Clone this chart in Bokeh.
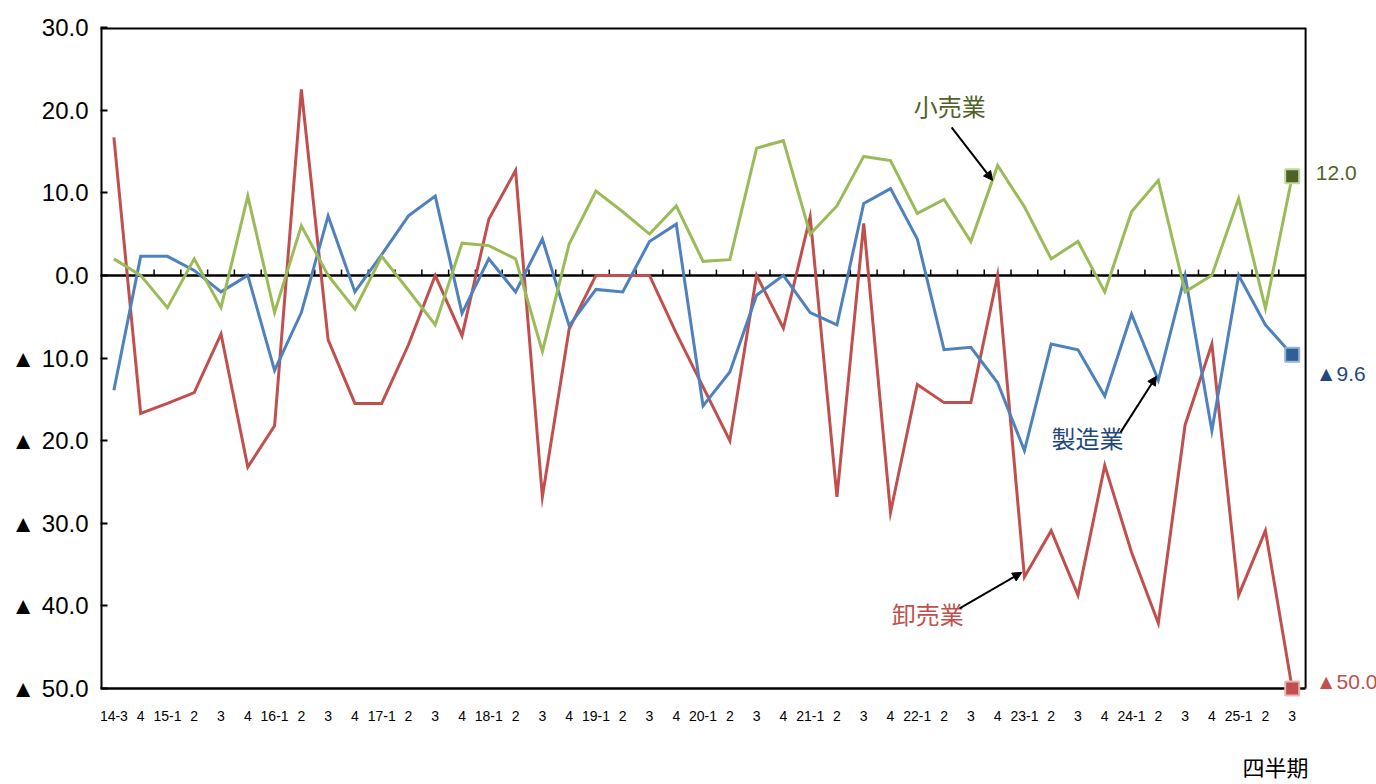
from bokeh.plotting import figure
from bokeh.models import Range1d, FixedTicker, Label, Arrow, NormalHead
from bokeh.core.properties import value
from bokeh.embed import file_html
from bokeh.resources import INLINE

# ---- data ----
quarters = ["14-3", "4", "15-1", "2", "3", "4", "16-1", "2", "3", "4",
            "17-1", "2", "3", "4", "18-1", "2", "3", "4", "19-1", "2", "3", "4",
            "20-1", "2", "3", "4", "21-1", "2", "3", "4", "22-1", "2", "3", "4",
            "23-1", "2", "3", "4", "24-1", "2", "3", "4", "25-1", "2", "3"]

manufacturing = [-13.9, 2.3, 2.3, 0.6, -2.0, 0.0, -11.5, -4.5, 7.2, -2.0, 2.5, 7.2, 9.6,
                 -4.6, 2.0, -2.0, 4.4, -6.1, -1.7, -2.0, 4.1, 6.2, -15.8, -11.7, -2.4,
                 0.0, -4.5, -6.0, 8.7, 10.5, 4.4, -9.0, -8.7, -13.0, -21.2, -8.3, -9.0,
                 -14.6, -4.7, -12.7, 0.0, -18.8, 0.0, -6.0, -9.6]

retail = [2.0, 0.0, -3.9, 2.0, -3.9, 9.6, -4.5, 6.0, 0.0, -4.1, 2.3, -1.8, -6.0, 3.9,
          3.6, 2.0, -9.2, 3.8, 10.2, 7.7, 5.0, 8.4, 1.7, 1.9, 15.4, 16.3, 5.0, 8.4,
          14.4, 13.9, 7.5, 9.2, 4.1, 13.3, 8.3, 2.0, 4.1, -2.0, 7.7, 11.5, -2.0, 0.0,
          9.3, -4.0, 12.0]

wholesale = [16.7, -16.7, -15.5, -14.2, -7.1, -23.2, -18.2, 22.5, -7.8, -15.5, -15.5,
             -8.4, 0.0, -7.3, 6.8, 12.7, -26.8, -6.5, 0.0, 0.0, 0.0, -7.0, -13.5, -20.0,
             0.0, -6.4, 7.1, -26.8, 6.3, -28.7, -13.2, -15.4, -15.4, 0.0, -36.5, -30.9,
             -38.7, -23.0, -33.5, -42.1, -18.1, -8.3, -38.7, -30.9, -50.0]

series_names = ["製造業", "小売業", "卸売業"]
y_ticks = [30, 20, 10, 0, -10, -20, -30, -40, -50]
x_title = "四半期"

# ---- style ----
SANS = "Liberation Sans"
CJK = "Noto Sans CJK JP"
line_colors = {"製造業": "#4f81bd", "小売業": "#9bbb59", "卸売業": "#c0504d"}
dark_colors = {"製造業": "#1f497d", "小売業": "#4f6228", "卸売業": "#c0504d"}
marker_fill = {"製造業": "#2f5f95", "小売業": "#4f6228", "卸売業": "#c0504d"}
marker_edge = {"製造業": "#95b3d7", "小売業": "#c3d69b", "卸売業": "#e6b9b8"}


def fmt(v):
    return ("▲" if v < 0 else "") + f"{abs(v):.1f}"


n = len(quarters)
x = list(range(n))
x_lo, x_hi = -0.5, n - 0.5          # plotting box
y_lo, y_hi = min(y_ticks), max(y_ticks)
PX_PER_X = 26.78
PX_PER_Y = 8.2625

W, H = 1376, 784
LEFT, TOP = 100, 27
p = figure(width=W, height=H, output_backend="svg", toolbar_location=None,
           x_range=Range1d(x_lo, x_lo + (W - LEFT) / PX_PER_X),
           y_range=Range1d(y_hi - (H - TOP) / PX_PER_Y, y_hi),
           x_axis_location=None,
           min_border_left=LEFT, min_border_top=TOP, min_border_right=0, min_border_bottom=0)
p.background_fill_color = "white"
p.border_fill_color = "white"
p.outline_line_color = None
p.xgrid.visible = False
p.ygrid.visible = False

# y axis (line drawn as part of box)
p.yaxis.ticker = FixedTicker(ticks=y_ticks)
p.yaxis.major_label_overrides = {t: (("▲ " + f"{abs(t):.1f}") if t < 0 else f"{t:.1f}") for t in y_ticks}
p.yaxis.major_label_text_font = SANS
p.yaxis.major_label_text_font_size = "24px"
p.yaxis.major_label_text_color = "black"
p.yaxis.major_tick_in = 7
p.yaxis.major_tick_out = 0
p.yaxis.minor_tick_line_color = None
p.yaxis.axis_line_color = None
p.yaxis.major_tick_line_width = 2
p.yaxis.major_label_standoff = 12

# plot box (left, top, right, bottom) and zero line with small ticks
p.segment(x0=[x_lo, x_lo, x_hi, x_lo], y0=[y_lo, y_hi, y_lo, y_lo],
          x1=[x_lo, x_hi, x_hi, x_hi], y1=[y_hi, y_hi, y_hi, y_lo],
          line_color="black", line_width=[4, 4, 2, 2.5])
p.segment(x0=[x_lo], y0=[0], x1=[x_hi], y1=[0], line_color="black", line_width=2.5)
bounds = [i + 0.5 for i in x[:-1]]
p.segment(x0=bounds, y0=[0] * len(bounds), x1=bounds, y1=[0.7] * len(bounds),
          line_color="black", line_width=1.5)

# category labels under the box
lab_y = y_lo - 27 / PX_PER_Y
p.text(x=x, y=[lab_y] * n, text=quarters, text_font=value(SANS), text_font_size="14px",
       text_color="black", text_align="center", text_baseline="middle")

data = {"製造業": manufacturing, "小売業": retail, "卸売業": wholesale}
for name in ["卸売業", "製造業", "小売業"]:
    p.line(x, data[name], line_color=line_colors[name], line_width=3, line_join="miter")

for name in ["卸売業", "製造業", "小売業"]:
    p.scatter([x[-1]], [data[name][-1]], marker="square", size=14,
              fill_color=marker_fill[name], line_color=marker_edge[name], line_width=2)

# end value labels
end_label_y = {"小売業": 12.45, "製造業": -11.9, "卸売業": -49.1}
for name in series_names:
    p.add_layout(Label(x=44.88, y=end_label_y[name], text=fmt(data[name][-1]),
                       text_font=SANS, text_font_size="21px", text_color=dark_colors[name],
                       text_align="left", text_baseline="middle"))

# series name labels with arrows
name_pos = {"小売業": (31.21, 20.5), "製造業": (36.36, -19.6), "卸売業": (30.39, -40.9)}
arrows = {"小売業": (31.28, 17.9, 32.81, 11.5),
          "製造業": (37.59, -19.0, 38.93, -12.2),
          "卸売業": (31.58, -40.3, 33.9, -35.96)}
for name in series_names:
    nx, ny = name_pos[name]
    p.add_layout(Label(x=nx, y=ny, text=name, text_font=CJK, text_font_size="24px",
                       text_color=dark_colors[name], text_align="center", text_baseline="middle"))
    x0, y0, x1, y1 = arrows[name]
    p.add_layout(Arrow(end=NormalHead(size=9, fill_color="black", line_color="black"),
                       x_start=x0, y_start=y0, x_end=x1, y_end=y1,
                       line_color="black", line_width=2))

p.add_layout(Label(x=43.38, y=-59.35, text=x_title, text_font=CJK, text_font_size="22px",
                   text_color="black", text_align="center", text_baseline="middle"))

open("out.html", "w").write(file_html(p, INLINE))
